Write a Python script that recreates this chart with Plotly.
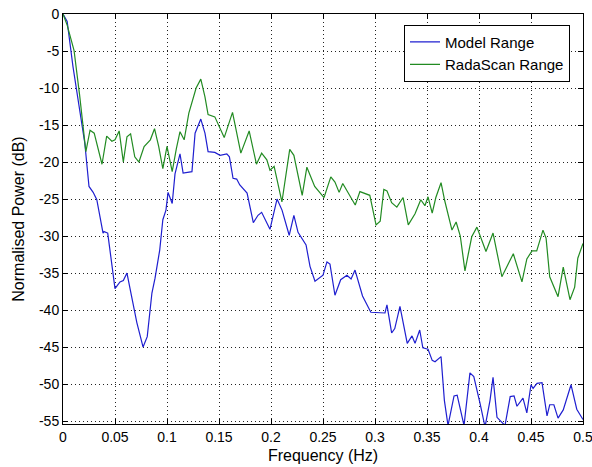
import plotly.graph_objects as go

# ---- data ----
model_freq = [0, 0.004, 0.0096, 0.016, 0.021, 0.025, 0.029, 0.0325, 0.0385, 0.0394, 0.043,
              0.050, 0.0548, 0.058, 0.0615, 0.066, 0.071, 0.077, 0.081, 0.0855, 0.0885,
              0.093, 0.096, 0.099, 0.101, 0.105, 0.1077, 0.1125, 0.1155, 0.124, 0.127,
              0.1325, 0.1365, 0.1395, 0.146, 0.151, 0.1575, 0.16, 0.1635, 0.167, 0.170,
              0.177, 0.183, 0.1875, 0.191, 0.199, 0.2058, 0.2106, 0.2175, 0.222, 0.226,
              0.2337, 0.2375, 0.2423, 0.25, 0.2538, 0.2567, 0.2615, 0.267, 0.273, 0.277,
              0.2808, 0.288, 0.296, 0.3067, 0.3096, 0.3115, 0.316, 0.319, 0.324, 0.331,
              0.3356, 0.3385, 0.343, 0.346, 0.351, 0.355, 0.3577, 0.3635, 0.3667, 0.3702,
              0.376, 0.379, 0.3856, 0.3913, 0.395, 0.401, 0.4058, 0.4106, 0.4135, 0.4173,
              0.425, 0.43, 0.4337, 0.4365, 0.4423, 0.446, 0.45, 0.452, 0.4558, 0.4606,
              0.4654, 0.468, 0.472, 0.476, 0.481, 0.4885, 0.494, 0.5]
model_power = [0, -1.0, -7.1, -13.0, -17.5, -23.3, -24.1, -25.1, -29.6, -29.4, -29.6,
               -37.1, -36.2, -36.0, -35.0, -38.2, -41.7, -45.0, -43.6, -37.7, -35.7,
               -31.9, -27.8, -26.5, -24.1, -25.6, -21.6, -18.9, -21.5, -21.3, -16.1,
               -14.2, -16.1, -18.6, -18.7, -19.1, -18.9, -19.3, -22.2, -22.3, -23.1,
               -24.2, -28.2, -27.2, -26.8, -29.1, -25.0, -26.5, -29.9, -27.2, -29.5,
               -31.2, -34.1, -36.1, -35.3, -33.5, -33.8, -38.0, -35.9, -35.3, -35.8,
               -34.6, -38.1, -40.3, -40.4, -40.4, -39.3, -43.1, -42.5, -39.5, -44.5,
               -43.5, -44.5, -42.7, -45.1, -45.3, -46.8, -47.0, -46.3, -52.2, -55.6,
               -51.6, -51.5, -55.6, -48.5, -49.0, -52.6, -55.8, -52.2, -49.1, -54.5,
               -55.6, -51.7, -51.6, -53.0, -51.9, -53.9, -50.1, -50.6, -49.9, -49.8,
               -54.3, -52.8, -52.8, -54.6, -53.5, -50.1, -53.4, -54.8]

rada_freq = [0, 0.004, 0.0106, 0.016, 0.022, 0.026, 0.030, 0.0375, 0.042, 0.047, 0.050,
             0.054, 0.058, 0.0615, 0.065, 0.069, 0.073, 0.078, 0.084, 0.088, 0.092,
             0.096, 0.100, 0.105, 0.109, 0.1125, 0.1165, 0.121, 0.128, 0.1325, 0.1365,
             0.1395, 0.146, 0.155, 0.163, 0.171, 0.179, 0.186, 0.191, 0.196, 0.199,
             0.203, 0.2105, 0.218, 0.222, 0.230, 0.2345, 0.242, 0.251, 0.2575, 0.2615,
             0.2655, 0.269, 0.281, 0.2855, 0.295, 0.301, 0.305, 0.3085, 0.3115, 0.316,
             0.321, 0.327, 0.332, 0.3385, 0.344, 0.348, 0.351, 0.355, 0.3585, 0.3635,
             0.367, 0.374, 0.378, 0.382, 0.3865, 0.393, 0.398, 0.4067, 0.4135, 0.422,
             0.433, 0.4413, 0.446, 0.451, 0.4555, 0.4615, 0.4645, 0.468, 0.476, 0.481,
             0.4875, 0.492, 0.495, 0.5]
rada_power = [0, -1.5, -4.9, -11.0, -18.6, -15.7, -16.1, -20.3, -16.5, -17.2, -17.0,
              -15.8, -20.0, -16.6, -16.2, -19.3, -20.0, -17.9, -17.0, -15.5, -17.9,
              -20.9, -17.9, -21.3, -18.2, -15.9, -17.0, -13.4, -10.0, -8.8, -11.2,
              -13.6, -13.9, -16.7, -13.3, -18.8, -15.8, -20.3, -18.8, -19.7, -21.1,
              -20.6, -25.4, -18.3, -19.1, -24.5, -20.7, -23.3, -24.8, -22.0, -22.7,
              -24.1, -22.9, -25.8, -24.0, -24.5, -28.5, -28.0, -23.7, -23.9, -25.5,
              -26.1, -24.8, -28.5, -27.0, -25.1, -25.9, -24.7, -26.9, -24.8, -22.8,
              -25.2, -29.2, -28.1, -30.0, -34.7, -30.1, -28.8, -32.1, -29.6, -35.5,
              -32.4, -36.2, -33.1, -32.0, -32.0, -29.2, -30.3, -35.5, -38.2, -34.2,
              -38.6, -36.9, -33.0, -31.0]

x_ticks = [0, 0.05, 0.1, 0.15, 0.2, 0.25, 0.3, 0.35, 0.4, 0.45, 0.5]
x_labels = ["0", "0.05", "0.1", "0.15", "0.2", "0.25", "0.3", "0.35", "0.4", "0.45", "0.5"]
y_ticks = [0, -5, -10, -15, -20, -25, -30, -35, -40, -45, -50, -55]
y_labels = ["0", "-5", "-10", "-15", "-20", "-25", "-30", "-35", "-40", "-45", "-50", "-55"]

FONT = "Liberation Sans, Arial, sans-serif"

fig = go.Figure()
fig.add_trace(go.Scatter(x=model_freq, y=model_power, mode="lines", name="Model Range",
                         line=dict(color="#1f1fd0", width=1.2)))
fig.add_trace(go.Scatter(x=rada_freq, y=rada_power, mode="lines", name="RadaScan Range",
                         line=dict(color="#228b22", width=1.2)))

axis_common = dict(showline=True, linecolor="black", linewidth=1, mirror="allticks",
                   ticks="inside", ticklen=5, tickcolor="black",
                   showgrid=True, gridcolor="#222222", griddash="1px,3px", gridwidth=1,
                   zeroline=False, automargin=False, ticklabeloverflow="allow",
                   tickfont=dict(family=FONT, size=14, color="black"))

fig.update_xaxes(range=[0, 0.5], tickvals=x_ticks, ticktext=x_labels,
                 title=dict(text="Frequency (Hz)", font=dict(family=FONT, size=16, color="black"),
                            standoff=6),
                 **axis_common)
fig.update_yaxes(range=[-55.4, 0], tickvals=y_ticks, ticktext=y_labels,
                 title=dict(text="Normalised Power (dB)", font=dict(family=FONT, size=16, color="black"),
                            standoff=10),
                 **axis_common)

fig.update_layout(
    width=592, height=467,
    margin=dict(l=63, r=9, t=14, b=43),
    paper_bgcolor="white", plot_bgcolor="white",
    font=dict(family=FONT, size=14, color="black"),
    legend=dict(x=0.975, y=0.974, xanchor="right", yanchor="top",
                bgcolor="white", bordercolor="black", borderwidth=1,
                font=dict(family=FONT, size=15, color="black"),
                itemwidth=30, tracegroupgap=0),
    showlegend=True,
)

fig.write_html("out.html")
